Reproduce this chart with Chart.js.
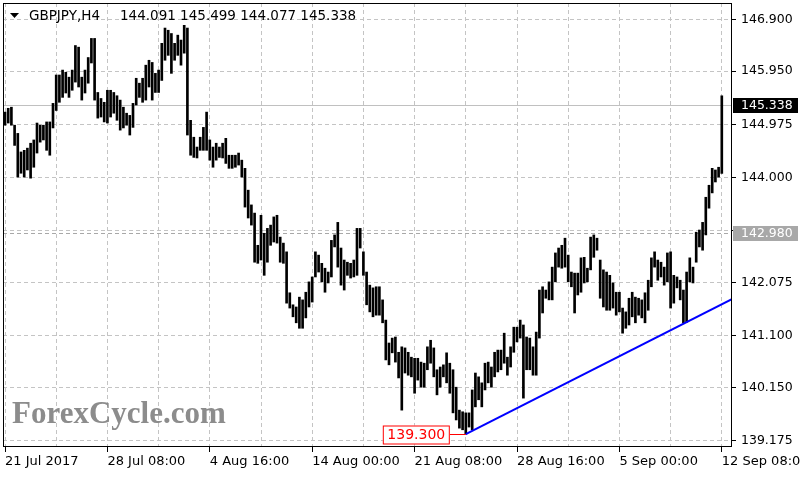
<!DOCTYPE html>
<html>
<head>
<meta charset="utf-8">
<script src="https://cdn.jsdelivr.net/npm/chart.js@4.4.1/dist/chart.umd.min.js"></script>
<style>
  html, body { margin: 0; padding: 0; background: #fff; }
  canvas { display: block; }
</style>
</head>
<body>
<canvas id="grafico" width="800" height="480"></canvas>
<script>
// GBPJPY H4, maximos y minimos de cada vela
let maximos = [
  145.20,145.27,145.29,144.96,144.81,144.47,144.50,144.54,144.63,144.69,
  145.00,144.96,144.96,145.02,145.02,145.36,145.88,145.88,145.97,145.93,
  145.84,145.97,146.42,146.39,145.84,145.97,146.20,146.55,146.55,145.56,
  145.45,145.38,145.60,145.60,145.56,145.50,145.42,145.29,145.18,145.14,
  145.36,145.82,145.73,145.82,146.06,146.15,146.11,145.91,145.97,146.46,
  146.74,146.70,146.64,146.46,146.61,146.52,146.79,146.74,145.05,144.74,
  144.56,144.74,144.92,145.20,144.69,144.56,144.63,144.56,144.63,144.72,
  144.41,144.41,144.41,144.45,144.32,144.17,143.77,143.50,143.35,142.76,
  143.31,142.98,143.07,143.13,143.28,143.31,142.91,142.80,142.64,141.89,
  141.67,141.63,141.81,141.76,141.90,142.09,142.18,142.64,142.58,142.43,
  142.34,142.27,142.85,142.95,143.18,142.71,142.49,142.45,142.43,142.49,
  143.07,143.07,142.64,142.27,142.03,141.98,142.00,142.00,141.76,141.39,
  140.97,141.06,141.08,140.80,140.90,140.88,140.80,140.71,140.69,140.69,
  140.62,140.60,140.90,141.02,140.88,140.48,140.53,140.57,140.79,140.60,
  140.48,140.16,139.74,139.71,139.69,139.69,140.11,140.42,140.35,140.24,
  140.60,140.62,140.53,140.80,140.84,140.84,141.15,140.71,140.90,141.26,
  141.26,141.39,141.30,141.08,141.06,140.90,141.17,141.94,142.00,141.94,
  142.09,142.36,142.62,142.71,142.76,142.89,142.58,142.27,142.25,142.25,
  142.53,142.54,142.34,142.91,142.95,142.89,142.49,142.31,142.27,142.21,
  142.07,141.90,141.90,141.61,141.54,141.79,141.90,141.81,141.79,141.76,
  141.89,142.12,142.53,142.64,142.49,142.45,142.36,142.62,142.64,142.21,
  142.18,142.12,141.94,142.27,142.53,142.36,143.00,143.04,143.18,143.64,
  143.86,144.17,144.14,144.19,145.499
];

let minimos = [
  144.96,145.00,144.96,144.59,144.01,144.08,144.01,144.14,143.99,144.19,
  144.45,144.65,144.69,144.50,144.41,144.91,145.23,145.38,145.47,145.55,
  145.47,145.60,145.75,145.66,145.42,145.55,145.73,146.10,145.42,145.09,
  145.11,145.02,145.00,145.11,145.18,145.05,144.87,144.91,144.96,144.78,
  144.92,145.33,145.47,145.38,145.42,145.66,145.42,145.56,145.56,145.78,
  146.15,146.24,145.91,146.15,146.24,146.06,146.28,144.78,144.41,144.37,
  144.36,144.50,144.50,144.50,144.32,144.19,144.32,144.37,144.36,144.26,
  144.17,144.17,144.19,144.23,144.01,143.46,143.26,143.13,142.45,142.43,
  142.49,142.21,142.45,142.76,142.82,142.80,142.45,142.43,141.70,141.61,
  141.45,141.34,141.24,141.24,141.43,141.63,141.72,142.18,142.27,142.09,
  141.90,142.07,142.18,142.73,142.36,142.03,141.94,142.21,142.16,142.18,
  142.21,142.71,142.21,141.67,141.54,141.45,141.48,141.48,141.34,140.66,
  140.57,140.79,140.62,140.33,139.74,140.42,140.38,140.35,140.05,140.29,
  140.16,140.16,140.48,140.60,140.35,140.02,140.16,140.35,140.24,140.05,
  139.69,139.56,139.41,139.38,139.30,139.43,139.38,139.80,139.93,139.80,
  140.11,140.24,140.16,140.35,140.44,140.48,140.60,140.38,140.53,140.80,
  140.99,141.06,139.96,140.48,140.48,140.38,140.38,141.06,141.52,141.79,
  141.76,141.76,142.09,142.36,142.34,142.36,142.09,142.00,141.52,141.85,
  141.90,142.07,142.09,142.31,142.54,142.67,141.79,141.63,141.57,141.57,
  141.61,141.48,141.54,141.15,141.24,141.30,141.45,141.34,141.48,141.43,
  141.34,141.57,142.00,142.36,142.12,142.18,142.03,142.09,141.61,141.70,
  141.98,141.76,141.34,141.35,142.09,142.07,142.45,142.73,142.67,142.95,
  143.44,143.72,143.92,144.01,144.077
];

let indicesFecha = [0, 32, 64, 96, 128, 160, 192, 224];
let textosFecha = ["21 Jul 2017", "28 Jul 08:00", "4 Aug 16:00", "14 Aug 00:00",
                   "21 Aug 08:00", "28 Aug 16:00", "5 Sep 00:00", "12 Sep 08:00"];
let preciosEje = [139.175, 140.150, 141.100, 142.075, 143.025, 144.000, 144.975, 145.950, 146.900];

let precioActual = 145.338;
let nivelHorizontal = 142.980;
let precioMinimo = 139.300;
let indiceMinimo = 144;
let tendenciaX = [144, 227];
let tendenciaY = [139.30, 141.77];
let simbolo = "GBPJPY,H4";
let ohlcActual = ["144.091", "145.499", "144.077", "145.338"];

let velas = maximos.map((h, i) => ({ x: i, y: [minimos[i], h] }));
let lineaTendencia = tendenciaX.map((x, i) => ({ x: x, y: tendenciaY[i] }));

const extras = {
    id: "extras",
    beforeDatasetsDraw(chart) {
        let { ctx, chartArea: a, scales: { y } } = chart;
        ctx.save();
        ctx.lineWidth = 1;
        let py = Math.round(y.getPixelForValue(precioActual)) + 0.5;
        ctx.strokeStyle = "#c0c0c0";
        ctx.beginPath(); ctx.moveTo(a.left, py); ctx.lineTo(a.right, py); ctx.stroke();
        py = Math.round(y.getPixelForValue(nivelHorizontal)) + 0.5;
        ctx.setLineDash([4, 3]);
        ctx.strokeStyle = "#a8a8a8";
        ctx.beginPath(); ctx.moveTo(a.left, py); ctx.lineTo(a.right, py); ctx.stroke();
        ctx.restore();
    },
    afterDraw(chart) {
        let { ctx, chartArea: a, scales: { x, y } } = chart;
        ctx.save();

        // marco
        ctx.strokeStyle = "#000";
        ctx.lineWidth = 1;
        ctx.strokeRect(Math.round(a.left) + 0.5, Math.round(a.top) + 0.5,
                       Math.round(a.right - a.left), Math.round(a.bottom - a.top));

        // cabecera
        ctx.fillStyle = "#000";
        ctx.beginPath(); ctx.moveTo(10, 13); ctx.lineTo(19, 13); ctx.lineTo(14.5, 18); ctx.closePath(); ctx.fill();
        ctx.font = "13.5px 'DejaVu Sans'";
        ctx.textBaseline = "middle";
        ctx.textAlign = "left";
        ctx.fillText(simbolo, 29, 16);
        ctx.fillText(ohlcActual.join(" "), 120, 16);

        // marca de agua
        ctx.font = "bold 31px 'Liberation Serif'";
        ctx.fillStyle = "#8c8c8c";
        ctx.textBaseline = "alphabetic";
        ctx.fillText("ForexCycle.com", 12, 423);

        // etiquetas de precio en el eje
        ctx.font = "12.5px 'DejaVu Sans'";
        ctx.textBaseline = "middle";
        let etiquetas = [[precioActual, "#000"], [nivelHorizontal, "#a8a8a8"]];
        etiquetas.forEach(([p, fondo]) => {
            let py = Math.round(y.getPixelForValue(p));
            ctx.fillStyle = fondo;
            ctx.fillRect(a.right + 2, py - 7, 65, 15);
            ctx.fillStyle = "#fff";
            ctx.fillText(p.toFixed(3), a.right + 10, py + 1);
        });

        // etiqueta del minimo
        let lx = x.getPixelForValue(indiceMinimo);
        let ly = Math.round(y.getPixelForValue(precioMinimo)) + 0.5;
        ctx.strokeStyle = "#ff0000";
        ctx.beginPath(); ctx.moveTo(lx - 16, ly); ctx.lineTo(lx, ly); ctx.stroke();
        ctx.fillStyle = "#fff";
        ctx.fillRect(lx - 83, ly - 9, 67, 18);
        ctx.strokeRect(lx - 82.5, ly - 8.5, 66, 18);
        ctx.fillStyle = "#ff0000";
        ctx.font = "14px 'DejaVu Sans'";
        ctx.textAlign = "center";
        ctx.fillText(precioMinimo.toFixed(3), lx - 49.5, ly + 1);
        ctx.restore();
    }
};

let ctx = document.getElementById("grafico").getContext("2d");
window.miGrafico = new Chart(ctx, {
    type: "bar",
    data: {
        datasets: [
            {
                type: "line",
                data: lineaTendencia,
                borderColor: "#0000ff",
                borderWidth: 2,
                pointRadius: 0,
                order: 0
            },
            {
                data: velas,
                backgroundColor: "#000",
                borderWidth: 0,
                barThickness: 2,
                grouped: false,
                order: 1
            }
        ]
    },
    options: {
        responsive: false,
        animation: false,
        devicePixelRatio: 1,
        layout: { padding: { left: 3, top: 3, right: 0, bottom: 0 } },
        plugins: { legend: { display: false }, tooltip: { enabled: false } },
        scales: {
            x: {
                type: "linear",
                offset: false,
                min: -0.625,
                max: 226.875,
                afterBuildTicks: (s) => {
                    let t = [];
                    for (let i = 0; i <= 224; i += 16) t.push({ value: i });
                    s.ticks = t;
                },
                afterFit: (s) => { s.height = 34; s.paddingLeft = 0; s.paddingRight = 0; },
                grid: {
                    offset: false,
                    color: "#c4c4c4",
                    tickLength: 6,
                    tickColor: (c) => indicesFecha.includes(c.tick && c.tick.value) ? "#000" : "rgba(0,0,0,0)",
                    tickBorderDash: []
                },
                border: { display: false, dash: [4, 3] },
                ticks: {
                    autoSkip: false,
                    maxRotation: 0,
                    align: "start",
                    padding: 2,
                    color: "#000",
                    font: { family: "DejaVu Sans", size: 13 },
                    callback: (v) => {
                        let k = indicesFecha.indexOf(v);
                        return k >= 0 ? textosFecha[k] : "";
                    }
                }
            },
            y: {
                type: "linear",
                position: "right",
                min: 139.083,
                max: 147.199,
                afterBuildTicks: (s) => { s.ticks = preciosEje.map(v => ({ value: v })); },
                afterFit: (s) => { s.width = 69; s.paddingTop = 0; s.paddingBottom = 0; },
                grid: {
                    color: "#c4c4c4",
                    tickLength: 5,
                    tickColor: "#000",
                    tickBorderDash: []
                },
                border: { display: false, dash: [4, 3] },
                ticks: {
                    autoSkip: false,
                    padding: 5,
                    color: "#000",
                    font: { family: "DejaVu Sans", size: 12.5 },
                    callback: (v) => Math.abs(v - nivelHorizontal) < 0.1 ? "" : v.toFixed(3)
                }
            }
        }
    },
    plugins: [extras]
});
</script>
</body>
</html>
